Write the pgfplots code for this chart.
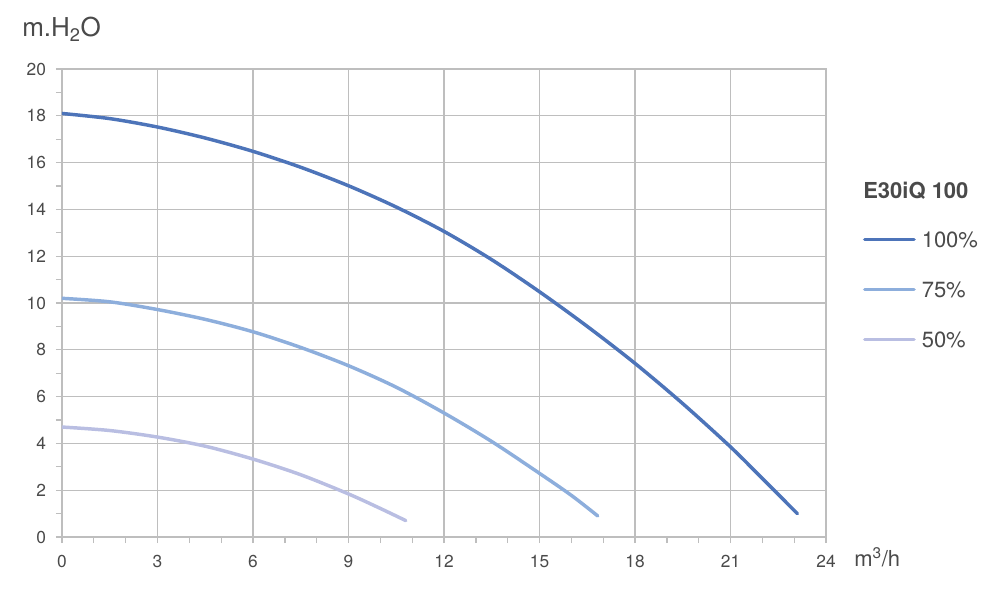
\documentclass[border=0pt]{standalone}
\usepackage{fontspec}
\setmainfont{TeX Gyre Heros}
\usepackage{pgfplots}
\pgfplotsset{compat=1.18}
\definecolor{gridc}{HTML}{BEBEBE}
\definecolor{txt}{HTML}{4A4A4A}
\definecolor{cA}{HTML}{4D74B9}
\definecolor{cB}{HTML}{8DAEDC}
\definecolor{cC}{HTML}{B9BEE2}
\begin{document}
\begin{tikzpicture}
\path[use as bounding box] (-46.5pt,-39pt) rectangle (703.5pt,402.75pt);
\begin{axis}[
  at={(0pt,0pt)}, anchor=south west,
  scale only axis, width=573pt, height=351pt,
  xmin=0, xmax=24, ymin=0, ymax=20,
  xtick={0,3,...,24}, ytick={0,2,...,20},
  minor x tick num=2, minor y tick num=1,
  tick align=outside, xtick pos=bottom, ytick pos=left,
  major tick length=4.5pt, minor tick length=4.5pt,
  grid=major, major grid style={gridc, line width=1pt},
  axis line style={gridc, line width=1pt},
  every tick/.style={gridc, line width=1pt},
  /pgf/number format/assume math mode=true,
  tick label style={font=\fontsize{13}{15}\selectfont, text=txt},
  xticklabel style={yshift=-5.5pt},
  yticklabel style={xshift=-4pt},
  legend style={draw=none, fill=none, inner sep=0pt, outer sep=0pt,
    at={(1.0484,0.6532)}, anchor=north west,
    row sep=25.5pt, column sep=4.5pt,
    nodes={inner sep=0pt, text height=12pt, text depth=0pt, text=txt,
      font=\fontsize{16.5}{18}\selectfont}},
  legend cell align=left,
  legend image code/.code={\draw[#1] (0pt,0pt) -- (37pt,0pt);},
]
\addplot[cA, line width=2.6pt, line cap=round, smooth] coordinates {
 (0,18.1) (1.5,17.88) (3,17.52) (4.5,17.05) (6,16.48) (7.5,15.8) (9,15.01)
 (10.5,14.1) (12,13.06) (13.5,11.85) (15,10.48) (16.5,9.0) (18,7.42)
 (19.5,5.7) (21,3.85) (22,2.5) (23.1,1.0)};
\addlegendentry{100\%}
\addplot[cB, line width=2.6pt, line cap=round, smooth] coordinates {
 (0,10.2) (1.5,10.05) (3,9.72) (4.5,9.3) (6,8.77) (7.5,8.1) (9,7.32)
 (10.5,6.4) (12,5.3) (13.5,4.08) (15,2.72) (16,1.78) (16.83,0.9)};
\addlegendentry{75\%}
\addplot[cC, line width=2.6pt, line cap=round, smooth] coordinates {
 (0,4.7) (1.5,4.55) (3,4.27) (4.5,3.88) (6,3.33) (7.5,2.66) (9,1.84)
 (10,1.22) (10.8,0.7)};
\addlegendentry{50\%}
\end{axis}
\node[anchor=base west, inner sep=0pt, text=txt, font=\fontsize{19.5}{22}\selectfont] at (-30pt,375pt) {m.H\textsubscript{2}O};
\node[anchor=base west, inner sep=0pt, text=txt, font=\fontsize{16.5}{18}\selectfont] at (594pt,-22.5pt) {m\textsuperscript{3}/h};
\node[anchor=base west, inner sep=0pt, text=txt, font=\bfseries\fontsize{16.5}{18}\selectfont] at (600.75pt,253.5pt) {E30iQ 100};
\end{tikzpicture}
\end{document}
